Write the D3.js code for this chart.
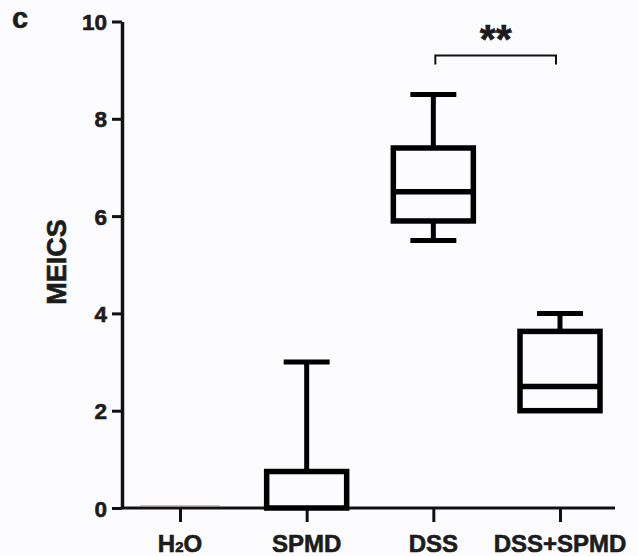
<!DOCTYPE html>
<html lang="en">
<head>
<meta charset="UTF-8">
<title>MEICS</title>
<style>
  body { margin: 0; background: #fcfcfe; }
  svg text { font-family: "Liberation Sans", Arial, Helvetica, sans-serif; font-weight: bold; fill: #1c1c1c; stroke: #1c1c1c; stroke-width: 0.6px; }
</style>
</head>
<body>
<div id="chart"></div>
<script src="https://d3js.org/d3.v7.min.js"></script>
<script>
// groups and box statistics
var groups = ["H2O", "SPMD", "DSS", "DSS+SPMD"];
var mins    = [0, 0,   5.5, 2.0];
var q1s     = [0, 0,   5.9, 2.0];
var medians = [0, 0,   6.5, 2.5];
var q3s     = [0, 0.75, 7.4, 3.63];
var maxs    = [0, 3,   8.5, 4.0];
var yTicks  = [0, 2, 4, 6, 8, 10];
// significance bracket between DSS and DSS+SPMD
var sigPair = ["DSS", "DSS+SPMD"];
var sigLevel = 9.3;
var sigLabel = "**";

var W = 638, H = 556;
var axisX = 122;

var svg = d3.select("#chart").append("svg")
  .attr("width", W).attr("height", H);

var y = d3.scaleLinear().domain([0, 10]).range([508, 21.5]);
var x = d3.scalePoint().domain(groups).range([180, 560]);

var boxHalf = 40, capHalf = 23;
var boxW = 5.5, whiskW = 5;

// y axis
var yAxis = svg.append("g")
  .attr("transform", "translate(" + axisX + ",0)")
  .call(d3.axisLeft(y).tickValues(yTicks).tickSize(10).tickSizeOuter(0).tickPadding(5));
yAxis.select(".domain").attr("stroke", "#111").attr("stroke-width", 3.5);
yAxis.selectAll(".tick line").attr("stroke", "#111").attr("stroke-width", 3);
yAxis.selectAll(".tick text").style("font-size", "22.5px").attr("dy", "0.36em");

// x axis
var xAxis = svg.append("g")
  .attr("transform", "translate(0," + y(0) + ")")
  .call(d3.axisBottom(x).tickSize(14).tickSizeOuter(0).tickFormat(""));
xAxis.select(".domain").remove();
xAxis.append("line")
  .attr("x1", axisX).attr("x2", x(groups[groups.length - 1]) + 55)
  .attr("y1", 0).attr("y2", 0)
  .attr("stroke", "#111").attr("stroke-width", 3);
xAxis.selectAll(".tick line").attr("stroke", "#111").attr("stroke-width", 3);

// x labels (H2O with subscript)
var labels = svg.append("g").selectAll("text")
  .data(groups).join("text")
  .attr("x", d => x(d))
  .attr("y", 552)
  .attr("text-anchor", "middle")
  .style("font-size", "24px");
labels.each(function(d) {
  var t = d3.select(this);
  if (d === "H2O") {
    t.append("tspan").text("H");
    t.append("tspan").text("2").style("font-size", "15px");
    t.append("tspan").text("O");
  } else {
    t.text(d);
  }
});

// y title
svg.append("text")
  .attr("transform", "translate(66,262) rotate(-90)")
  .attr("text-anchor", "middle")
  .style("font-size", "27px")
  .text("MEICS");

// panel letter
svg.append("text")
  .attr("x", 12).attr("y", 28)
  .style("font-size", "29px")
  .text("c");

// boxes
groups.forEach(function(g, i) {
  var cx = x(g);
  var layer = svg.append("g");
  if (q1s[i] === q3s[i] && mins[i] === maxs[i]) {
    // collapsed box: only a faint line at the value
    layer.append("line")
      .attr("x1", cx - boxHalf).attr("x2", cx + boxHalf)
      .attr("y1", y(medians[i]) - 2).attr("y2", y(medians[i]) - 2)
      .attr("stroke", "#9c8a7e").attr("stroke-width", 1.2);
    return;
  }
  // whiskers
  [[q3s[i], maxs[i]], [mins[i], q1s[i]]].forEach(function(w) {
    if (w[0] === w[1]) return;
    layer.append("line")
      .attr("x1", cx).attr("x2", cx)
      .attr("y1", y(w[0])).attr("y2", y(w[1]))
      .attr("stroke", "#000").attr("stroke-width", whiskW);
  });
  [mins[i], maxs[i]].forEach(function(v, k) {
    if ((k === 0 && v === q1s[i]) || (k === 1 && v === q3s[i])) return;
    layer.append("line")
      .attr("x1", cx - capHalf).attr("x2", cx + capHalf)
      .attr("y1", y(v)).attr("y2", y(v))
      .attr("stroke", "#000").attr("stroke-width", whiskW);
  });
  // box
  layer.append("rect")
    .attr("x", cx - boxHalf)
    .attr("y", y(q3s[i]))
    .attr("width", boxHalf * 2)
    .attr("height", y(q1s[i]) - y(q3s[i]))
    .attr("fill", "none")
    .attr("stroke", "#000").attr("stroke-width", boxW);
  // median
  if (medians[i] !== q1s[i]) {
    layer.append("line")
      .attr("x1", cx - boxHalf).attr("x2", cx + boxHalf)
      .attr("y1", y(medians[i])).attr("y2", y(medians[i]))
      .attr("stroke", "#000").attr("stroke-width", boxW);
  }
});

// significance bracket
var sx1 = x(sigPair[0]) + 2, sx2 = x(sigPair[1]) - 4, sy = y(sigLevel);
svg.append("path")
  .attr("d", "M" + sx1 + "," + (sy + 9) + "V" + sy + "H" + sx2 + "V" + (sy + 9))
  .attr("fill", "none").attr("stroke", "#111").attr("stroke-width", 2);
svg.append("text")
  .attr("x", (sx1 + sx2) / 2).attr("y", sy - 3)
  .attr("text-anchor", "middle")
  .style("font-size", "41px")
  .text(sigLabel);
</script>
</body>
</html>
